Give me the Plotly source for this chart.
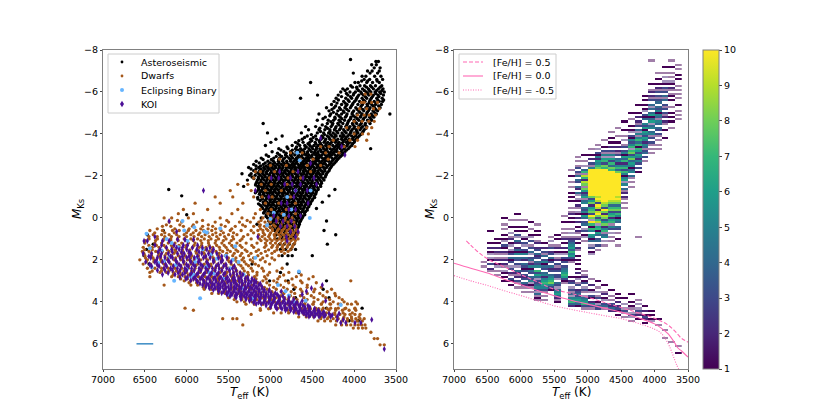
import numpy as np
import plotly.graph_objects as go

# scatter values are grouped in rows: one Mks value, then the Teff of the stars near it
ast_mks = [-7.55, -7.45, -7.3, -7.15, -7.0, -6.9, -6.75, -6.6, -6.45, -6.3, -6.15, -6.0, -5.85, -5.7, -5.55, -5.4,
           -5.25, -5.1, -4.95, -4.8, -4.65, -4.5, -4.35, -4.2, -4.05, -3.9, -3.75, -3.6, -3.45, -3.3, -3.15, -3.0,
           -2.85, -2.7, -2.55, -2.4, -2.25, -2.1, -1.95, -1.8, -1.65, -1.5, -1.35, -1.2, -1.05, -0.9, -0.75, -0.6,
           -0.45, -0.3, -0.15, 0.0, 0.15, 0.3, 0.45, 0.6, 0.8, 1.0, 1.25, 1.5, 1.8, 2.2, 2.6, 3.0, 3.4, 3.8, 4.3, 4.9]
ast_teff = [
    [4043], [3740, 3710], [3790, 3735], [3690, 3760], [3700, 3785, 3840], [4010, 3720, 3810], [3680, 3755, 3860, 3905],
    [3730, 3815, 3880, 3660], [4520, 3700, 3780, 3850, 3950, 3990], [3670, 3745, 3805, 3875, 3930, 4040],
    [3655, 3710, 3770, 3830, 3900, 3965, 4080, 4135], [3640, 3695, 3750, 3800, 3855, 3920, 3985, 4050, 4160],
    [4437, 3650, 3715, 3770, 3825, 3890, 3945, 4010, 4075, 4190], [4640, 3665, 3730, 3795, 3850, 3905, 3970, 4030, 4100, 4215],
    [3660, 3700, 3760, 3815, 3870, 3935, 3995, 4060, 4125, 4240], [3675, 3745, 3790, 3845, 3900, 3955, 4020, 4085, 4150, 4270],
    [3690, 3755, 3810, 3860, 3925, 3980, 4045, 4110, 4175, 4240, 4330], [3720, 3775, 3830, 3885, 3945, 4005, 4065, 4130, 4195, 4300],
    [3573, 3735, 3795, 3850, 3905, 3965, 4025, 4085, 4150, 4210, 4280, 4420], [3765, 3815, 3870, 3925, 3985, 4040, 4105, 4165, 4230, 4345],
    [3790, 3840, 3895, 3945, 4000, 4060, 4115, 4180, 4245, 4310, 4440], [5087, 3810, 3865, 3915, 3970, 4020, 4080, 4135, 4195, 4255, 4320],
    [3850, 3900, 3950, 3995, 4050, 4100, 4155, 4215, 4275, 4340, 4460, 4580], [3880, 3930, 3975, 4025, 4075, 4125, 4175, 4235, 4290, 4350, 4420, 4545],
    [5035, 3905, 3955, 4000, 4045, 4095, 4145, 4195, 4250, 4305, 4365, 4440, 4630], [3940, 3985, 4030, 4075, 4120, 4165, 4215, 4265, 4320, 4385, 4460, 4560, 4860],
    [3975, 4020, 4060, 4105, 4150, 4195, 4240, 4290, 4340, 4395, 4450, 4520, 4620, 4935], [4000, 4050, 4095, 4135, 4180, 4225, 4270, 4315, 4360, 4410, 4465, 4530, 4610, 4700, 4995],
    [4030, 4085, 4125, 4170, 4210, 4255, 4300, 4340, 4385, 4430, 4480, 4530, 4590, 4650, 4740, 5060],
    [3803, 4070, 4120, 4165, 4205, 4245, 4285, 4325, 4365, 4410, 4450, 4495, 4540, 4590, 4640, 4700, 4790, 4900],
    [4110, 4155, 4200, 4235, 4275, 4315, 4355, 4390, 4430, 4470, 4510, 4555, 4600, 4645, 4695, 4760, 4840, 4980],
    [4140, 4190, 4230, 4270, 4305, 4345, 4385, 4420, 4460, 4500, 4540, 4580, 4620, 4665, 4710, 4760, 4820, 4890, 5050],
    [4180, 4225, 4265, 4305, 4345, 4380, 4420, 4455, 4495, 4535, 4570, 4610, 4650, 4690, 4735, 4780, 4830, 4890, 4960, 5110],
    [4215, 4265, 4305, 4345, 4385, 4420, 4455, 4490, 4530, 4565, 4605, 4640, 4680, 4720, 4760, 4805, 4855, 4905, 4965, 5030, 5170],
    [4250, 4295, 4340, 4380, 4415, 4450, 4490, 4525, 4560, 4600, 4635, 4670, 4710, 4745, 4785, 4825, 4870, 4920, 4970, 5020, 5085, 5200],
    [4280, 4330, 4365, 4405, 4445, 4480, 4515, 4555, 4590, 4625, 4665, 4700, 4735, 4775, 4810, 4850, 4890, 4935, 4980, 5030, 5080, 5140, 5260],
    [4300, 4350, 4390, 4430, 4465, 4500, 4540, 4575, 4610, 4650, 4685, 4720, 4755, 4795, 4830, 4870, 4910, 4950, 4990, 5035, 5085, 5130, 5200],
    [4330, 4375, 4415, 4450, 4490, 4525, 4560, 4600, 4635, 4670, 4705, 4745, 4780, 4815, 4855, 4890, 4925, 4965, 5005, 5045, 5090, 5140, 5230, 5340],
    [4345, 4395, 4435, 4470, 4510, 4545, 4580, 4620, 4655, 4690, 4730, 4765, 4800, 4835, 4875, 4910, 4945, 4985, 5020, 5060, 5100, 5145, 5220],
    [4360, 4410, 4450, 4490, 4525, 4565, 4600, 4635, 4675, 4710, 4745, 4785, 4820, 4855, 4890, 4930, 4965, 5000, 5040, 5075, 5115, 5155, 5275],
    [4390, 4435, 4470, 4510, 4545, 4585, 4620, 4655, 4690, 4730, 4765, 4800, 4840, 4875, 4910, 4945, 4985, 5020, 5055, 5095, 5130, 5170],
    [4400, 4450, 4490, 4525, 4565, 4600, 4640, 4675, 4710, 4745, 4785, 4820, 4855, 4895, 4930, 4965, 5000, 5040, 5075, 5110, 5150, 5320],
    [4230, 4430, 4475, 4510, 4550, 4585, 4620, 4660, 4695, 4730, 4770, 4805, 4840, 4880, 4915, 4950, 4990, 5025, 5060, 5100, 5140, 6215],
    [4455, 4495, 4535, 4570, 4610, 4645, 4680, 4720, 4755, 4790, 4830, 4865, 4900, 4935, 4975, 5010, 5045, 5085, 5125, 5180],
    [4300, 4480, 4520, 4555, 4595, 4630, 4665, 4705, 4740, 4775, 4815, 4850, 4885, 4925, 4960, 4995, 5035, 5070, 5110, 6060],
    [4495, 4540, 4575, 4615, 4650, 4685, 4725, 4760, 4795, 4835, 4870, 4905, 4940, 4980, 5015, 5050, 5095, 5150],
    [4380, 4520, 4560, 4600, 4635, 4670, 4710, 4745, 4780, 4820, 4855, 4890, 4925, 4965, 5000, 5040, 5085],
    [4540, 4585, 4625, 4660, 4695, 4735, 4770, 4805, 4845, 4880, 4915, 4955, 4990, 5025, 5065, 5120],
    [4450, 4560, 4605, 4640, 4680, 4715, 4750, 4790, 4825, 4860, 4900, 4935, 4970, 5010, 5045, 5090],
    [4580, 4620, 4660, 4695, 4730, 4770, 4805, 4840, 4880, 4915, 4950, 4990, 5025, 5070],
    [4590, 4635, 4675, 4710, 4750, 4785, 4820, 4860, 4895, 4930, 4970, 5005, 5050, 6000],
    [4620, 4660, 4695, 4735, 4770, 4805, 4845, 4880, 4915, 4955, 4990, 5035, 5110],
    [4330, 4640, 4680, 4715, 4755, 4790, 4830, 4865, 4900, 4940, 4975, 5020],
    [4655, 4695, 4735, 4775, 4810, 4850, 4885, 4925, 4960, 5005, 5160],
    [4670, 4715, 4755, 4795, 4835, 4875, 4915, 4955, 5000],
    [4360, 4690, 4735, 4780, 4820, 4865, 4905, 4950, 6280],
    [4220, 4700, 4745, 4790, 4835, 4885, 4930, 6470],
    [4710, 4760, 4810, 4860, 4915],
    [4320, 4720, 4775, 4835, 4890, 6400],
    [4700, 4755, 4820, 4880, 6480],
    [4500, 4740, 4790, 4860, 6510],
    [4800, 5220, 6450],
    [4660, 4880],
    [4790, 5010, 4330],
    [4370, 4720],
    [4700, 4300],
    [3905, 4330],
    [3950, 4060],
]

# second pass over the same cloud, stars lying between the rows above
ast_mks2 = [-6.52, -6.23, -6.07, -5.93, -5.78, -5.62, -5.47, -5.33, -5.17, -5.03, -4.87, -4.73, -4.58, -4.43, -4.27, -4.12, -3.97,
            -3.83, -3.68, -3.53, -3.38, -3.23, -3.08, -2.93, -2.78, -2.62, -2.47, -2.33, -2.17, -2.03, -1.88, -1.72, -1.57,
            -1.43, -1.27, -1.13, -0.97, -0.83, -0.67, -0.53, -0.37, -0.23, -0.07, 0.08, 0.22, 0.38, 0.53, 0.7, 0.9]
ast_teff2 = [
    [3725, 3838, 3910], [3690, 3788, 3852, 3970, 4020], [3668, 3732, 3818, 3878, 3948, 4108], [3682, 3741, 3838, 3912, 4003, 4092],
    [3704, 3781, 3866, 3958, 4044, 4151], [3648, 3718, 3809, 3889, 3978, 4073, 4188], [3733, 3822, 3908, 4012, 4108, 4205],
    [3708, 3774, 3839, 3915, 4033, 4098, 4221], [3742, 3821, 3897, 3962, 4087, 4162, 4265], [3759, 3844, 3931, 4018, 4121, 4248],
    [3781, 3859, 3918, 4010, 4092, 4183, 4291], [3802, 3887, 3962, 4042, 4148, 4227, 4372], [3823, 3912, 3989, 4071, 4163, 4278],
    [3871, 3931, 4013, 4088, 4182, 4262, 4381], [3858, 3919, 4003, 4064, 4161, 4223, 4319, 4410], [3892, 3967, 4038, 4111, 4208, 4288, 4402],
    [3921, 3978, 4058, 4133, 4228, 4281, 4354, 4511], [3958, 4009, 4096, 4142, 4238, 4301, 4372, 4489, 4592], [3995, 4072, 4128, 4212, 4263, 4348, 4418, 4506, 4661],
    [4018, 4072, 4148, 4193, 4287, 4332, 4402, 4458, 4551, 4672], [4052, 4108, 4188, 4231, 4322, 4372, 4448, 4507, 4571, 4688, 4802],
    [4091, 4143, 4218, 4262, 4338, 4401, 4462, 4528, 4618, 4672, 4738, 4874], [4128, 4172, 4251, 4291, 4362, 4438, 4478, 4561, 4602, 4682, 4741, 4812, 4915],
    [4162, 4208, 4288, 4328, 4402, 4441, 4512, 4553, 4632, 4671, 4748, 4802, 4866, 4931, 5022], [4199, 4248, 4322, 4362, 4438, 4478, 4548, 4588, 4662, 4702, 4762, 4848, 4902, 4988, 5088],
    [4232, 4278, 4358, 4398, 4468, 4512, 4578, 4618, 4692, 4732, 4802, 4842, 4896, 4948, 5002, 5062, 5134],
    [4268, 4318, 4388, 4428, 4502, 4542, 4612, 4652, 4722, 4762, 4802, 4852, 4898, 4948, 4998, 5052, 5118, 5172],
    [4292, 4352, 4412, 4472, 4532, 4592, 4642, 4702, 4752, 4812, 4862, 4902, 4962, 5012, 5062, 5112, 5172, 5232],
    [4318, 4372, 4432, 4482, 4552, 4602, 4662, 4722, 4772, 4832, 4882, 4932, 4992, 5052, 5102, 5168],
    [4338, 4402, 4452, 4512, 4572, 4622, 4682, 4742, 4792, 4852, 4902, 4962, 5012, 5072, 5122, 5182, 5248],
    [4372, 4422, 4482, 4532, 4592, 4652, 4702, 4762, 4812, 4872, 4932, 4982, 5032, 5092, 5142, 5198],
    [4392, 4442, 4502, 4552, 4612, 4672, 4722, 4782, 4842, 4892, 4952, 5002, 5052, 5112, 5162],
    [4402, 4462, 4512, 4572, 4632, 4682, 4742, 4802, 4852, 4912, 4962, 5022, 5072, 5132, 5178],
    [4432, 4482, 4532, 4592, 4642, 4702, 4762, 4812, 4872, 4932, 4982, 5042, 5092, 5142],
    [4452, 4502, 4562, 4612, 4672, 4722, 4782, 4842, 4892, 4952, 5002, 5062, 5112, 5162],
    [4462, 4512, 4572, 4632, 4682, 4742, 4802, 4852, 4912, 4972, 5022, 5082, 5132],
    [4472, 4532, 4592, 4642, 4702, 4762, 4812, 4872, 4932, 4982, 5042, 5102, 5152],
    [4502, 4552, 4612, 4662, 4722, 4782, 4832, 4892, 4952, 5002, 5062, 5122],
    [4522, 4572, 4632, 4682, 4742, 4802, 4852, 4912, 4972, 5022, 5082, 5142],
    [4542, 4592, 4652, 4702, 4762, 4822, 4872, 4932, 4992, 5042, 5102],
    [4562, 4612, 4672, 4722, 4782, 4842, 4892, 4952, 5012, 5062],
    [4592, 4642, 4692, 4752, 4802, 4862, 4922, 4972, 5032, 5082],
    [4612, 4662, 4712, 4772, 4822, 4882, 4942, 4992, 5052],
    [4632, 4682, 4742, 4792, 4852, 4912, 4962, 5012],
    [4652, 4702, 4762, 4812, 4872, 4932, 4982],
    [4662, 4722, 4782, 4842, 4902, 4962],
    [4682, 4742, 4802, 4862, 4922],
    [4702, 4762, 4832, 4892],
    [4722, 4792, 4862],
]

dwarf_mks = [-5.9, -5.5, -5.2, -4.9, -4.6, -4.3, -4.0, -3.7, -3.4, -3.1, -2.8, -2.5, -2.2, -1.9, -1.6, -1.3, -1.0, -0.7,
             -0.4, -0.2, 0.0, 0.2, 0.4, 0.6, 0.8, 1.0, 1.2, 1.4, 1.6, 1.8, 2.0, 2.2, 2.4, 2.6, 2.8, 3.0, 3.2, 3.4,
             3.6, 3.8, 4.0, 4.1, 4.3, 4.4, 4.6, 4.8, 5.1, 5.25, 5.45, 5.75, 6.05]
dwarf_teff = [
    [3800, 3870], [3720, 3790, 3880, 3910], [3700, 3770, 3850, 3935], [3745, 3820, 3880, 3960], [3760, 3825, 3905, 4000],
    [3790, 3850, 3950, 4090], [3830, 3900, 4000], [3850, 3960, 4050, 4250], [3990, 4120, 4300, 4400], [4180, 4340, 4620, 4760],
    [4310, 4490, 4640, 4890], [4400, 4560, 4810, 5000], [4520, 4730, 4950, 5120, 5180], [4640, 4790, 5010, 5200],
    [4800, 4990, 5110, 5270, 5390], [4870, 5060, 5230, 5480], [4760, 4980, 5100, 5200, 5450, 5660], [4700, 4900, 5060, 5330, 5600, 5900],
    [4810, 4990, 5120, 5390, 5750, 6040], [4700, 4860, 5030, 5180, 5460, 5920, 6100], [4740, 4820, 4910, 4990, 5090, 5200, 5340, 5600, 5980, 6180, 6270],
    [4720, 4790, 4855, 4925, 5000, 5065, 5140, 5240, 5370, 5500, 5660, 5880, 6060, 6210], [4700, 4760, 4820, 4880, 4945, 5005, 5070, 5130, 5200, 5300, 5420, 5540, 5690, 5810, 5930, 6040, 6190, 6290],
    [4690, 4745, 4800, 4860, 4915, 4975, 5030, 5090, 5150, 5230, 5350, 5480, 5590, 5700, 5800, 5890, 5980, 6090, 6170, 6290, 6440],
    [4680, 4735, 4790, 4845, 4900, 4955, 5010, 5070, 5140, 5270, 5400, 5500, 5600, 5690, 5780, 5860, 5950, 6030, 6120, 6210, 6300, 6400],
    [4670, 4725, 4785, 4840, 4895, 4950, 5005, 5065, 5130, 5230, 5340, 5440, 5530, 5620, 5710, 5790, 5870, 5950, 6030, 6110, 6190, 6270, 6350, 6450],
    [4710, 4770, 4825, 4880, 4940, 5000, 5060, 5160, 5290, 5400, 5490, 5580, 5660, 5740, 5820, 5900, 5980, 6060, 6140, 6220, 6300, 6380, 6500],
    [4740, 4800, 4860, 4920, 4985, 5070, 5200, 5340, 5440, 5530, 5610, 5690, 5770, 5850, 5930, 6010, 6090, 6170, 6250, 6330, 6410, 6520],
    [4790, 4870, 4950, 5060, 5170, 5280, 5390, 5480, 5570, 5650, 5730, 5810, 5890, 5970, 6050, 6130, 6210, 6290, 6370, 6450, 6530],
    [4900, 5040, 5150, 5260, 5360, 5450, 5540, 5620, 5700, 5780, 5860, 5940, 6020, 6100, 6180, 6260, 6340, 6420, 6500],
    [4950, 5120, 5240, 5340, 5430, 5510, 5590, 5670, 5750, 5830, 5910, 5990, 6070, 6150, 6230, 6310, 6390, 6470, 6560],
    [5010, 5180, 5290, 5380, 5470, 5550, 5630, 5710, 5790, 5870, 5950, 6030, 6110, 6190, 6270, 6350, 6430, 6520],
    [4860, 5100, 5230, 5330, 5420, 5500, 5580, 5660, 5740, 5820, 5900, 5980, 6060, 6140, 6220, 6300, 6380, 6470],
    [4780, 5010, 5160, 5270, 5360, 5440, 5520, 5600, 5680, 5760, 5840, 5920, 6000, 6080, 6160, 6240, 6320, 6440],
    [4490, 4690, 4890, 5070, 5190, 5290, 5380, 5460, 5540, 5620, 5700, 5780, 5860, 5940, 6020, 6100, 6180, 6440],
    [4040, 4640, 4820, 4960, 5090, 5200, 5300, 5390, 5470, 5550, 5630, 5710, 5790, 5870, 5950, 6030],
    [4560, 4730, 4880, 5010, 5120, 5220, 5310, 5390, 5470, 5550, 5630, 5710, 5790, 5870, 5950, 6270],
    [4270, 4470, 4640, 4800, 4930, 5040, 5140, 5230, 5310, 5390, 5470, 5550, 5630, 5710, 5790],
    [4230, 4410, 4560, 4710, 4840, 4950, 5050, 5140, 5220, 5300, 5380, 5460, 5540, 5620, 5700],
    [4180, 4340, 4480, 4600, 4720, 4830, 4930, 5020, 5100, 5180, 5260, 5340, 5420, 5500],
    [3980, 4120, 4250, 4370, 4480, 4580, 4680, 4770, 4860, 4950, 5040, 5130, 5220, 5310, 5400],
    [3960, 4080, 4190, 4290, 4390, 4490, 4590, 4690, 4790, 4890, 4990, 5090, 5190],
    [3990, 4100, 4190, 4280, 4370, 4460, 4550, 4640, 4730, 4820, 4910, 5000, 6020],
    [3980, 4060, 4140, 4220, 4300, 4380, 4460, 4540, 4620, 4700, 4790, 5120, 5920],
    [3930, 3990, 4050, 4110, 4170, 4230, 4290, 4360, 4430, 4500, 4600, 5230],
    [3880, 3930, 3980, 4030, 4080, 4130, 4190, 4250, 4320, 4400, 5570, 5450, 5400],
    [3870, 3910, 3950, 3990, 4040, 4090, 4150, 4220, 5330],
    [3860, 3900, 3950, 4010],
    [3800],
    [3760, 3720],
    [3690, 3640],
]

# dwarfs lying between the rows above
dwarf_mks2 = [0.12, 0.33, 0.52, 0.71, 0.89, 1.08, 1.31, 1.52, 1.69, 1.91, 2.09, 2.28, 2.53, 2.72, 2.91, 3.09, 3.31, 3.52, 3.71, 3.89, 4.11, 4.33, 4.53, 4.72, 4.91]
dwarf_teff2 = [
    [4752, 4832, 4921, 5012, 5112, 5278, 5521, 5811, 6110], [4712, 4788, 4873, 4962, 5041, 5121, 5332, 5588, 5742, 5921, 6082, 6243],
    [4695, 4772, 4838, 4902, 4981, 5048, 5118, 5462, 5655, 5745, 5832, 5971, 6142, 6352], [4668, 4722, 4812, 4872, 4933, 4998, 5086, 5201, 5441, 5562, 5652, 5748, 5843, 5922, 6002, 6148, 6262, 6382],
    [4692, 4754, 4818, 4881, 4947, 5022, 5098, 5322, 5451, 5548, 5642, 5732, 5822, 5912, 6002, 6092, 6182, 6262, 6352, 6452],
    [4702, 4752, 4812, 4862, 4922, 4982, 5042, 5112, 5362, 5468, 5562, 5652, 5742, 5832, 5922, 6012, 6102, 6192, 6282, 6372, 6492],
    [4732, 4792, 4852, 4912, 4972, 5052, 5222, 5362, 5462, 5552, 5642, 5732, 5822, 5912, 6002, 6092, 6182, 6272, 6362, 6452],
    [4762, 4842, 4922, 5022, 5142, 5302, 5412, 5512, 5602, 5692, 5782, 5872, 5962, 6052, 6142, 6232, 6322, 6412, 6502],
    [4832, 4982, 5112, 5232, 5342, 5432, 5522, 5612, 5702, 5792, 5882, 5972, 6062, 6152, 6242, 6332, 6422, 6512],
    [4982, 5092, 5202, 5322, 5412, 5502, 5592, 5682, 5772, 5862, 5952, 6042, 6132, 6222, 6312, 6402, 6492],
    [5062, 5212, 5312, 5402, 5492, 5582, 5672, 5762, 5852, 5942, 6032, 6122, 6212, 6302, 6392, 6482],
    [5142, 5262, 5352, 5442, 5532, 5622, 5712, 5802, 5892, 5982, 6072, 6162, 6252, 6342, 6432],
    [4922, 5082, 5212, 5312, 5402, 5492, 5582, 5672, 5762, 5852, 5942, 6032, 6122, 6212, 6302, 6412],
    [4632, 4842, 5032, 5162, 5262, 5352, 5442, 5532, 5622, 5712, 5802, 5892, 5982, 6072, 6162],
    [4542, 4742, 4912, 5052, 5172, 5272, 5362, 5452, 5542, 5632, 5722, 5812, 5902, 5992, 6072],
    [4452, 4622, 4782, 4922, 5042, 5152, 5252, 5342, 5432, 5522, 5612, 5702, 5792, 5882, 5972],
    [4392, 4562, 4702, 4842, 4962, 5072, 5172, 5262, 5352, 5442, 5532, 5622, 5712, 5802],
    [4322, 4482, 4622, 4752, 4872, 4982, 5082, 5172, 5262, 5352, 5442, 5532, 5612],
    [4222, 4372, 4512, 4642, 4762, 4872, 4972, 5062, 5152, 5242, 5332, 5422, 5502],
    [4142, 4292, 4432, 4562, 4682, 4792, 4892, 4982, 5072, 5162, 5252, 5342, 5432],
    [4032, 4162, 4282, 4392, 4492, 4592, 4692, 4792, 4892, 4992, 5092, 5192, 5292],
    [3992, 4112, 4222, 4322, 4422, 4522, 4622, 4722, 4822, 4922, 5022, 5122],
    [4022, 4132, 4232, 4332, 4422, 4512, 4602, 4692, 4782, 4872, 4962],
    [3942, 4032, 4122, 4212, 4302, 4392, 4482, 4572, 4662],
    [3902, 3962, 4022, 4082, 4142, 4212, 4282, 4352, 4432],
]

koi_mks = [-3.8, -3.4, -3.0, -2.6, -2.2, -1.9, -1.6, -1.3, -1.0, -0.7, -0.4, -0.1, 0.15, 0.4, 0.65, 0.9, 1.1, 1.3, 1.5,
           1.7, 1.9, 2.1, 2.3, 2.5, 2.7, 2.9, 3.05, 3.2, 3.35, 3.5, 3.65, 3.8, 3.95, 4.1, 4.25, 4.4, 4.55, 4.7, 4.85, 5.0, 6.25]
koi_teff = [
    [4400], [4150], [4110], [4520], [4670, 4890], [4480, 4610, 4760, 4900, 4990], [4450, 4640, 4740, 4830], [5800, 4560, 4700, 5180],
    [4720, 5020], [4550, 4800, 4870], [4780, 4700], [4640, 4960, 4780], [4750, 4850, 4930, 6210], [4710, 4800, 4880], [4760, 4670, 6120],
    [4700, 4810, 5150, 6380], [4800, 6510, 6470, 6290, 6210], [6380, 6300, 6150, 6040, 5990, 5870], [6320, 6180, 6090, 6000, 5880, 5760, 5680],
    [6520, 6420, 6300, 6220, 6110, 6030, 5950, 5820, 5740, 5640], [6430, 6350, 6260, 6170, 6080, 6000, 5910, 5800, 5720, 5620, 5520],
    [6490, 6380, 6290, 6210, 6120, 6040, 5950, 5860, 5760, 5680, 5590, 5470], [6420, 6330, 6240, 6160, 6070, 5980, 5900, 5810, 5730, 5650, 5560, 5430],
    [6350, 6260, 6170, 6080, 6000, 5910, 5830, 5750, 5660, 5580, 5490, 5410], [6290, 6140, 6050, 5960, 5880, 5800, 5720, 5640, 5560, 5480, 5400, 5330],
    [6010, 5920, 5840, 5760, 5680, 5610, 5530, 5450, 5380, 5300, 5220], [5870, 5790, 5720, 5650, 5580, 5510, 5440, 5370, 5300, 5230, 5170],
    [5810, 5740, 5670, 5600, 5540, 5470, 5400, 5340, 5270, 5200, 5140, 4380], [5730, 5660, 5600, 5530, 5470, 5410, 5350, 5290, 5220, 5160, 5100, 4510],
    [5620, 5560, 5500, 5440, 5380, 5320, 5260, 5200, 5140, 5080, 5020, 4870, 4570], [5520, 5460, 5400, 5340, 5280, 5220, 5170, 5110, 5050, 4990, 4920, 4620],
    [5410, 5350, 5290, 5240, 5180, 5120, 5060, 5000, 4950, 4890, 4780],
    [5250, 5190, 5130, 5070, 5010, 4960, 4900, 4840, 4780, 4620, 4340], [5170, 5110, 5050, 4990, 4930, 4880, 4820, 4760, 4700, 4640],
    [5000, 4940, 4880, 4830, 4770, 4710, 4650, 4590, 4530], [4820, 4760, 4710, 4650, 4600, 4540, 4480, 4430], [4660, 4600, 4550, 4500, 4440, 4380, 4300, 4180],
    [4540, 4480, 4420, 4360, 4280, 4200], [4200, 4130, 3790], [4160, 4100, 3990, 3920], [3640],
]

# KOIs lying between the rows above
koi_mks2 = [1.03, 1.42, 1.62, 1.83, 2.02, 2.22, 2.41, 2.62, 2.83, 2.98, 3.13, 3.28, 3.43, 3.58, 3.73, 3.88, 4.03, 4.18, 4.33, 4.48, 4.63]
koi_teff2 = [
    [6110, 6022, 5918], [6242, 6122, 6052, 5932, 5812, 5722], [6342, 6172, 6062, 5972, 5852, 5692], [6452, 6312, 6192, 6052, 5972, 5872, 5772, 5582],
    [6362, 6222, 6132, 6042, 5962, 5852, 5682, 5572], [6442, 6352, 6252, 6092, 6002, 5922, 5832, 5742, 5622, 5532],
    [6272, 6192, 6112, 6022, 5942, 5852, 5772, 5692, 5612, 5522, 5452], [6222, 6102, 6022, 5942, 5862, 5782, 5702, 5622, 5542, 5442, 5362],
    [6082, 5992, 5902, 5822, 5742, 5662, 5592, 5512, 5432, 5352, 5272], [5952, 5882, 5802, 5722, 5652, 5572, 5492, 5422, 5342, 5262, 5192],
    [5842, 5762, 5692, 5622, 5552, 5472, 5412, 5332, 5262, 5192, 5122], [5772, 5702, 5632, 5572, 5502, 5432, 5372, 5302, 5242, 5172, 5102],
    [5682, 5622, 5552, 5492, 5432, 5372, 5312, 5252, 5192, 5132, 5072, 5012], [5582, 5522, 5472, 5412, 5352, 5292, 5232, 5172, 5112, 5052, 4992, 4942],
    [5482, 5422, 5362, 5312, 5252, 5192, 5142, 5082, 5022, 4962, 4902, 4852], [5352, 5292, 5232, 5182, 5122, 5062, 5012, 4952, 4892, 4832, 4722],
    [5202, 5142, 5082, 5022, 4972, 4912, 4852, 4792, 4742, 4682], [5052, 4992, 4942, 4882, 4832, 4772, 4722, 4662, 4612, 4552],
    [4922, 4862, 4802, 4752, 4692, 4642, 4582, 4532, 4472], [4722, 4672, 4622, 4572, 4522, 4472, 4412, 4362], [4572, 4522, 4462, 4402, 4342, 4262],
]

eb_teff = [6480, 6440, 6420, 6300, 6270, 6240, 6180, 6130, 6050, 6000, 5950, 5880, 5810, 5750, 5680, 5600, 5530, 5480, 5420, 5380,
           6200, 6100, 5990, 5900, 5790, 5730, 5640, 5560, 5450, 5340, 5240, 5210, 5040, 4990, 4910, 4820, 4780, 4720, 4660, 4580, 4530,
           6340, 6150, 6030, 5920, 5840, 5760, 5710, 5500, 5320, 5180, 4160, 4650, 4680, 4700, 4520, 4800, 4840, 4960, 5000, 4750, 5910, 5770]
eb_mks = [0.75, 1.45, 2.35, 1.55, 2.05, 1.0, 1.2, 2.25, 0.15, 2.45, 2.8, 1.9, 1.5, 2.3, 2.65, 0.5, 1.8, 2.4, 1.35, 2.1,
          1.85, 1.4, 1.1, 2.1, 0.65, 2.6, 1.95, 2.9, 2.0, 3.35, 3.05, 3.85, 0.35, 4.05, 3.2, 3.5, 3.7, 4.0, 2.55, 3.95, 0.0,
          2.15, 3.0, 0.6, 2.7, 3.83, 0.7, 1.75, 3.65, 2.7, 1.9, 4.15, -2.75, -3.1, -1.3, -1.3, -1.0, -0.15, -0.25, 0.05, -0.4, 0.45, 2.35]

err_teff = [6600, 6400]
err_mks = [6, 6]

feh_p05_teff = [6815, 6750, 6650, 6500, 6250, 6000, 5750, 5500, 5250, 5000, 4750, 4500, 4250, 4000, 3900, 3800, 3700, 3600, 3500]
feh_p05_mks = [1.1, 1.3, 1.6, 1.95, 2.33, 2.7, 3.05, 3.4, 3.6, 3.78, 4.03, 4.27, 4.52, 4.78, 4.92, 5.1, 5.38, 5.73, 5.92]
feh_00_teff = [7000, 6750, 6500, 6250, 6000, 5750, 5500, 5250, 5000, 4750, 4500, 4250, 4000, 3900, 3800, 3700, 3650, 3600, 3500]
feh_00_mks = [2.16, 2.4, 2.63, 2.92, 3.19, 3.46, 3.71, 3.92, 4.11, 4.3, 4.49, 4.75, 5.05, 5.25, 5.52, 5.95, 6.2, 6.33, 6.63]
feh_m05_teff = [7000, 6750, 6500, 6250, 6000, 5750, 5500, 5250, 5000, 4750, 4500, 4250, 4000, 3900, 3800, 3750, 3700, 3670, 3640]
feh_m05_mks = [2.75, 3.0, 3.22, 3.47, 3.7, 3.95, 4.19, 4.36, 4.51, 4.66, 4.8, 5.02, 5.3, 5.5, 5.97, 6.33, 6.76, 7.0, 7.2]

# 2d histogram: column centre, Mks of the first row, counts going down in 0.1 mag rows
hist_teff = [3650, 3750, 3850, 3950, 4050, 4050, 4150, 4250, 4350, 4450, 4550, 4650, 4750, 4850, 4950, 5050, 5150, 5250, 5350, 5450,
             5550, 5650, 5750, 5850, 5950, 6050, 6150, 6250, 6350, 6450, 6450, 6550,
             5050, 4950, 4850, 4750, 4650, 4550, 4450, 4350, 4250, 4150, 4050, 3950, 3850, 3750, 3650, 4250, 4550,
             5250, 5150, 5750]
hist_start = [-7.3, -7.5, -7.2, -6.9, -7.5, -6.4, -5.8, -5.4, -5.0, -4.6, -4.3, -4.1, -3.7, -3.5, -3.3, -3.0, -2.9, -2.3, -0.1, 0.8,
              0.9, 1.2, 0.3, 0.2, 0.1, -0.2, 0.1, 0.0, 1.0, 0.6, 1.2, 2.1,
              2.5, 2.9, 3.0, 3.2, 3.4, 3.6, 3.8, 3.6, 3.9, 4.2, 4.4, 4.8, 5.3, 5.9, 6.1, 0.9, 1.3,
              2.8, 2.2, 3.1]
hist_counts = [
    [1, 0, 1, 0, 0, 1, 0, 1, 0, 0, 1, 0, 1, 0, 1, 0, 1, 0, 0, 1, 0, 0, 1, 0, 1, 0, 1],
    [1, 0, 0, 1, 0, 0, 1, 0, 1, 0, 2, 1, 0, 2, 1, 0, 1, 1, 0, 1, 0, 0, 1, 0, 0, 1, 0, 1, 0, 1, 0, 0, 1],
    [1, 0, 0, 1, 0, 2, 0, 2, 1, 0, 3, 1, 3, 0, 4, 1, 4, 0, 3, 1, 3, 0, 3, 1, 2, 0, 2, 1, 0, 0, 1, 0, 0, 0, 1],
    [1, 0, 0, 1, 0, 1, 0, 2, 1, 3, 0, 3, 1, 3, 4, 0, 4, 3, 5, 1, 5, 4, 1, 5, 4, 0, 4, 3, 0, 3, 1, 0, 1, 0, 1, 0, 1],
    [1],
    [1, 0, 0, 1, 2, 0, 2, 1, 3, 0, 4, 2, 4, 0, 4, 6, 1, 4, 6, 2, 4, 5, 0, 4, 5, 1, 3, 0, 3, 1, 0, 1, 0, 1],
    [1, 0, 1, 0, 1, 0, 1, 2, 0, 3, 1, 4, 0, 5, 3, 6, 1, 6, 5, 3, 6, 5, 2, 5, 4, 1, 3, 4, 0, 3, 0, 1],
    [1, 0, 0, 0, 1, 0, 2, 0, 2, 1, 3, 0, 4, 2, 5, 1, 5, 7, 4, 7, 1, 7, 6, 3, 6, 5, 2, 5, 3, 0, 3, 0, 1, 0],
    [1, 0, 0, 1, 0, 0, 1, 0, 1, 2, 0, 3, 1, 5, 3, 5, 7, 2, 7, 8, 3, 6, 8, 4, 6, 5, 1, 4, 5, 0, 4, 1, 0, 1, 0, 1],
    [1, 0, 0, 0, 1, 0, 0, 1, 0, 2, 0, 1, 3, 0, 3, 5, 1, 6, 4, 7, 2, 5, 7, 3, 7, 5, 1, 5, 6, 2, 5, 0, 4, 1, 2, 0, 2, 1, 0, 1, 0, 1],
    [1, 0, 0, 0, 1, 0, 0, 1, 0, 2, 0, 2, 1, 3, 0, 4, 5, 2, 5, 7, 4, 8, 10, 10, 10, 10, 10, 10, 10, 10, 10, 10, 10, 9, 10, 9, 8, 4, 7, 8, 3, 7, 5, 1, 5, 4, 0, 4, 3, 0, 1, 0, 0, 1],
    [1, 0, 0, 1, 0, 1, 0, 2, 0, 3, 1, 5, 2, 6, 3, 7, 4, 8, 7, 10, 10, 10, 10, 10, 10, 10, 10, 10, 10, 10, 10, 10, 10, 9, 8, 4, 7, 8, 3, 6, 7, 2, 6, 7, 1, 5, 3, 0, 2, 0, 1, 0, 1],
    [1, 0, 0, 1, 0, 3, 1, 5, 2, 6, 7, 3, 8, 7, 10, 10, 10, 10, 10, 10, 10, 10, 10, 10, 10, 10, 10, 10, 10, 10, 9, 8, 3, 10, 8, 2, 9, 8, 3, 6, 8, 2, 5, 7, 1, 4, 5, 0, 2, 0, 1, 0],
    [1, 0, 2, 0, 3, 1, 5, 2, 6, 5, 7, 8, 10, 10, 10, 10, 10, 10, 10, 10, 10, 10, 10, 10, 10, 9, 10, 9, 3, 10, 9, 2, 9, 10, 8, 3, 7, 9, 2, 6, 7, 1, 6, 4, 0, 3, 4, 0, 3, 0, 1],
    [1, 0, 0, 1, 0, 2, 0, 3, 1, 5, 10, 10, 10, 10, 10, 10, 10, 10, 10, 10, 10, 10, 10, 8, 3, 6, 8, 2, 6, 7, 8, 3, 10, 8, 2, 10, 7, 1, 7, 5, 0, 6, 5, 1, 4, 0, 2, 3, 0, 1, 2, 0],
    [1, 0, 0, 1, 0, 2, 0, 4, 7, 1, 9, 7, 2, 9, 8, 1, 8, 6, 2, 4, 6, 1, 4, 5, 0, 4, 3, 5, 1, 6, 4, 0, 3, 4, 0, 2, 3, 0, 1, 2, 0, 1],
    [1, 0, 1, 0, 1, 3, 0, 3, 1, 4, 0, 4, 3, 0, 4, 2, 0, 4, 2, 0, 2, 1, 0, 2, 1, 0, 2, 1, 0, 2, 0, 2, 0, 1, 0, 2, 1, 0, 1, 2, 0, 1, 0, 2, 1, 0, 0, 1, 0, 1],
    [1, 0, 0, 1, 0, 0, 1, 0, 1, 0, 0, 1, 0, 1, 0, 1, 0, 0, 1, 0, 1, 2, 0, 1, 0, 1, 0, 0, 1, 0, 2, 0, 1, 2, 3, 4, 5, 6, 4, 7, 5, 6, 3, 1, 1],
    [1, 0, 0, 1, 0, 0, 1, 0, 1, 0, 1, 2, 0, 1, 0, 2, 0, 1, 2, 0, 3, 1, 3, 0, 3, 4, 5, 6, 7, 6, 3, 1, 1],
    [1, 0, 1, 0, 0, 1, 2, 0, 1, 2, 0, 1, 2, 0, 3, 1, 2, 3, 0, 3, 3, 2, 0, 4, 3, 2, 4, 5, 6, 4, 2, 1, 1],
    [1, 0, 2, 0, 1, 3, 0, 2, 3, 0, 4, 1, 3, 0, 4, 2, 3, 0, 4, 5, 6, 7, 8, 5, 3, 1],
    [1, 0, 2, 0, 3, 1, 4, 0, 3, 5, 1, 4, 3, 0, 4, 5, 2, 5, 6, 7, 6, 5, 3, 1, 0, 1, 0, 1],
    [1, 0, 0, 1, 0, 1, 0, 0, 1, 2, 0, 2, 3, 0, 4, 2, 3, 0, 4, 3, 5, 0, 7, 3, 6, 4, 2, 3, 5, 2, 3, 1, 0, 1, 0, 1],
    [1, 0, 0, 1, 0, 0, 1, 2, 0, 3, 0, 1, 3, 0, 4, 2, 0, 3, 4, 1, 2, 5, 1, 4, 3, 0, 4, 3, 5, 2, 1, 1, 0, 1, 0],
    [1, 0, 0, 1, 0, 1, 0, 0, 2, 1, 0, 3, 2, 0, 3, 1, 5, 0, 4, 2, 0, 4, 3, 1, 3, 0, 3, 2, 3, 0, 4, 2, 1, 0, 1],
    [1, 0, 0, 1, 0, 0, 1, 0, 1, 0, 3, 2, 0, 4, 2, 0, 2, 4, 1, 5, 0, 4, 3, 0, 3, 2, 0, 4, 2, 1, 2, 0, 3, 1, 0, 1, 0],
    [1, 0, 0, 1, 0, 0, 2, 0, 1, 2, 0, 1, 2, 0, 2, 1, 3, 0, 4, 1, 3, 0, 2, 3, 0, 2, 1, 0, 3, 1, 0, 1],
    [1, 0, 0, 1, 0, 1, 0, 0, 1, 0, 1, 2, 0, 3, 1, 0, 2, 1, 0, 1, 2, 0, 2, 1, 0, 2, 1, 0, 1, 0, 1],
    [1, 0, 1, 0, 2, 0, 2, 1, 0, 1, 2, 0, 1, 2, 0, 1, 0, 1, 0],
    [1],
    [1, 0, 2, 0, 1, 2, 0, 2, 1, 0, 3, 0, 2, 1, 0],
    [1, 0, 1],
    [1, 0, 1, 2, 0, 1, 3, 0, 2, 3, 1, 0, 2, 4, 5, 6, 7, 3, 1],
    [1, 0, 0, 2, 0, 1, 2, 0, 3, 1, 0, 2, 5, 3, 1],
    [1, 0, 0, 1, 0, 2, 0, 1, 3, 0, 1, 2, 4, 3, 0],
    [1, 0, 0, 1, 2, 0, 1, 2, 0, 3, 4, 1, 0],
    [1, 0, 0, 1, 0, 1, 0, 3, 2, 4, 2, 0],
    [1, 0, 1, 0, 2, 0, 2, 3, 1, 0, 1],
    [1, 0, 0, 2, 0, 2, 3, 2, 0, 1],
    [1, 0, 0, 0, 1, 0, 1, 1, 0, 2, 3, 2, 0, 1],
    [1, 0, 2, 0, 2, 3, 1, 2, 0, 1, 0],
    [1, 0, 2, 0, 1, 3, 2, 0, 1],
    [1, 0, 1, 0, 1, 2, 0],
    [1, 0, 0, 1, 0],
    [1, 0, 0, 0, 1, 0],
    [1, 0],
    [1, 0, 0, 1],
    [1],
    [1],
    [1, 0, 2, 3, 0, 2, 3, 1, 4, 2, 5, 6, 7, 4, 2],
    [1, 0, 1, 0, 2, 0, 1, 2, 0, 1, 3, 0, 2, 3, 4, 3, 5, 6, 5, 4, 1],
    [3, 4, 5, 3, 2, 4, 1, 1, 1],
]

# z grid for the histogram
x_bins = np.arange(3650, 6650, 100)
y_bins = np.round(np.arange(-7.6, 7.1, 0.1), 1)
z = np.full((len(y_bins), len(x_bins)), np.nan)
for teff, start, counts in zip(hist_teff, hist_start, hist_counts):
    col = int(round((teff - 3650) / 100))
    row0 = int(round((start + 7.6) / 0.1))
    for i, c in enumerate(counts):
        if c > 0 and row0 + i < len(y_bins):
            z[row0 + i, col] = c

# thin rows of low counts come out washed in the reference, so every other row is drawn paler
z_solid = z.copy()
z_pale = np.full(z.shape, np.nan)
for r in range(1, z.shape[0], 2):
    low = z[r] <= 2
    z_pale[r, low] = z[r, low]
    z_solid[r, low] = np.nan


def flatten(rows_y, rows_x):
    xs, ys = [], []
    for y, row in zip(rows_y, rows_x):
        for x in row:
            xs.append(x)
            ys.append(y)
    return xs, ys


ast_x, ast_y = flatten(ast_mks + ast_mks2, ast_teff + ast_teff2)
dwarf_x, dwarf_y = flatten(dwarf_mks + dwarf_mks2, dwarf_teff + dwarf_teff2)
koi_x, koi_y = flatten(koi_mks + koi_mks2, koi_teff + koi_teff2)

font_name = "DejaVu Sans"
pink = "#ff69b4"
legend_font = dict(size=9.5, color="black", family=font_name)
title_font = dict(size=12, color="black", family=font_name)


# the page body adds 8px around the figure, so page pixels are converted to paper here
def X(px):
    return (px - 8) / 830


def Y(py):
    return 1 - (py - 8) / 415


fig = go.Figure()

fig.add_trace(go.Scatter(x=ast_x, y=ast_y, mode="markers", name="Asteroseismic",
                         marker=dict(color="black", size=3.4), xaxis="x", yaxis="y"))
fig.add_trace(go.Scatter(x=dwarf_x, y=dwarf_y, mode="markers", name="Dwarfs",
                         marker=dict(color="#a5581a", size=3.3), xaxis="x", yaxis="y"))
fig.add_trace(go.Scatter(x=eb_teff, y=eb_mks, mode="markers", name="Eclipsing Binary",
                         marker=dict(color="#66b5ff", size=4), xaxis="x", yaxis="y"))
fig.add_trace(go.Scatter(x=koi_x, y=koi_y, mode="markers", name="KOI",
                         marker=dict(color="#4b0e96", size=4.5, symbol="diamond-tall"), xaxis="x", yaxis="y"))
fig.add_trace(go.Scatter(x=err_teff, y=err_mks, mode="lines", name="error",
                         line=dict(color="#3b8bc4", width=1.5), xaxis="x", yaxis="y"))

fig.add_trace(go.Heatmap(x=x_bins, y=y_bins, z=z_pale, zmin=1, zmax=10, colorscale="Viridis", hoverongaps=False,
                         opacity=0.5, showscale=False, xaxis="x2", yaxis="y2"))
fig.add_trace(go.Heatmap(x=x_bins, y=y_bins, z=z_solid, zmin=1, zmax=10, colorscale="Viridis", hoverongaps=False,
                         xaxis="x2", yaxis="y2",
                         colorbar=dict(x=X(703), xanchor="left", xpad=0, ypad=0, y=Y(369), yanchor="bottom",
                                       len=319 / 415, thickness=16, tickvals=list(range(1, 11)), ticks="outside",
                                       ticklen=3, outlinecolor="#808080", outlinewidth=1, tickcolor="#444",
                                       tickfont=legend_font)))
fig.add_trace(go.Scatter(x=feh_p05_teff, y=feh_p05_mks, mode="lines", name="[Fe/H] = 0.5",
                         line=dict(color=pink, width=1.1, dash="4px,2px", shape="spline"), xaxis="x2", yaxis="y2"))
fig.add_trace(go.Scatter(x=feh_00_teff, y=feh_00_mks, mode="lines", name="[Fe/H] = 0.0",
                         line=dict(color=pink, width=1.1, shape="spline"), xaxis="x2", yaxis="y2"))
fig.add_trace(go.Scatter(x=feh_m05_teff, y=feh_m05_mks, mode="lines", name="[Fe/H] = -0.5",
                         line=dict(color=pink, width=1.1, dash="1px,1.5px", shape="spline"), xaxis="x2", yaxis="y2"))

# legends: plotly's own rows are too tall for these boxes, so box, keys and labels are drawn here
box_line = dict(color="#cccccc", width=1)
fig.add_shape(type="rect", xref="paper", yref="paper", x0=X(108), x1=X(219), y0=Y(113), y1=Y(54),
              line=box_line, fillcolor="white", layer="above")
fig.add_shape(type="rect", xref="paper", yref="paper", x0=X(459), x1=X(556), y0=Y(99), y1=Y(54),
              line=box_line, fillcolor="white", layer="above")

legend_rows = [62, 76, 90, 104]
left_labels = ["Asteroseismic", "Dwarfs", "Eclipsing Binary", "KOI"]
left_keys = [("black", 2.8), ("#a5581a", 2.8), ("#66b5ff", 4), ("#4b0e96", 0)]
for row, label, key in zip(legend_rows, left_labels, left_keys):
    fig.add_annotation(xref="paper", yref="paper", x=X(139), y=Y(row), text=label, showarrow=False,
                       xanchor="left", yanchor="middle", font=legend_font)
    if key[1] > 0:
        fig.add_shape(type="circle", xref="paper", yref="paper", x0=X(122 - key[1] / 2), x1=X(122 + key[1] / 2),
                      y0=Y(row + key[1] / 2), y1=Y(row - key[1] / 2), fillcolor=key[0], line=dict(width=0), layer="above")
    else:
        fig.add_shape(type="path", xref="paper", yref="paper", fillcolor=key[0], line=dict(width=0), layer="above",
                      path=f"M {X(122)} {Y(row - 3.2)} L {X(124)} {Y(row)} L {X(122)} {Y(row + 3.2)} L {X(120)} {Y(row)} Z")

right_labels = ["[Fe/H] = 0.5", "[Fe/H] = 0.0", "[Fe/H] = -0.5"]
right_dashes = ["4px,2px", "solid", "1px,1.5px"]
for row, label, dash in zip(legend_rows, right_labels, right_dashes):
    fig.add_annotation(xref="paper", yref="paper", x=X(491), y=Y(row), text=label, showarrow=False,
                       xanchor="left", yanchor="middle", font=legend_font)
    fig.add_shape(type="line", xref="paper", yref="paper", x0=X(463), x1=X(483), y0=Y(row), y1=Y(row),
                  line=dict(color=pink, width=1.1, dash=dash), layer="above")

# axis titles sit closer to the ticks than plotly's standoff allows
for centre, ylabel_x in [(249.5, 78), (571, 431)]:
    fig.add_annotation(xref="paper", yref="paper", x=X(centre), y=Y(393), text="<i>T</i><sub>eff</sub> (K)",
                       showarrow=False, xanchor="center", yanchor="middle", font=title_font)
    fig.add_annotation(xref="paper", yref="paper", x=X(ylabel_x), y=Y(209), text="<i>M</i><sub>Ks</sub>",
                       showarrow=False, textangle=-90, xanchor="center", yanchor="middle", font=title_font)

axis_style = dict(showgrid=False, zeroline=False, showline=True, mirror=True, linecolor="#808080", linewidth=1, automargin=False,
                  ticks="outside", ticklen=2, tickcolor="#444", tickfont=dict(size=9.5, color="black", family=font_name))
x_style = dict(range=[7000, 3500], tickvals=[7000, 6500, 6000, 5500, 5000, 4500, 4000, 3500])
y_style = dict(range=[7.2, -8], tickvals=[-8, -6, -4, -2, 0, 2, 4, 6])

fig.update_layout(
    width=830, height=415, margin=dict(l=0, r=0, t=0, b=0), template="plotly_white", showlegend=False,
    paper_bgcolor="white", plot_bgcolor="white", font=dict(family=font_name),
    xaxis=dict(domain=[X(103), X(396)], anchor="y", **axis_style, **x_style),
    yaxis=dict(domain=[Y(369), Y(50)], anchor="x", **axis_style, **y_style),
    xaxis2=dict(domain=[X(454), X(688)], anchor="y2", **axis_style, **x_style),
    yaxis2=dict(domain=[Y(369), Y(50)], anchor="x2", **axis_style, **y_style),
)

fig.write_html("out.html")
